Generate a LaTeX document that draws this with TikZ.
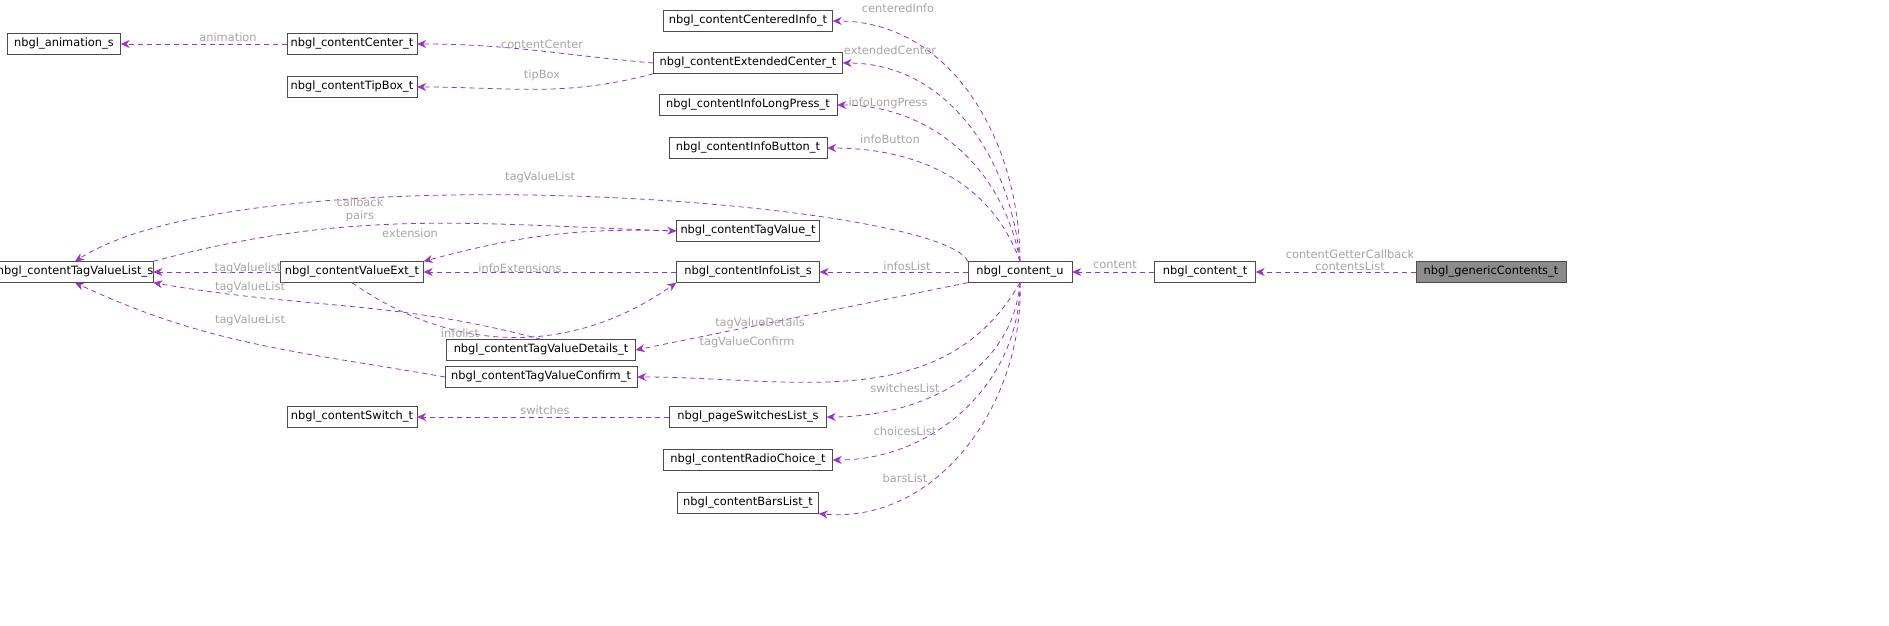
\documentclass[tikz,border=0pt]{standalone}
\usepackage{fontspec}
\setmainfont{DejaVu Sans}
\usetikzlibrary{arrows.meta}
\begin{document}
\begin{tikzpicture}[x=1pt,y=1pt,scale=0.5,every node/.append style={transform shape}]
\tikzstyle{cls}=[draw=black!70,line width=0.35pt,fill=white,inner sep=0pt,minimum height=21pt,font=\fontsize{11.4}{13}\selectfont]
\tikzstyle{dep}=[draw={rgb,255:red,154;green,50;blue,205},line width=0.4pt,dash pattern=on 2.5pt off 2pt,-{Stealth[length=4.5pt,width=4pt]}]
\tikzstyle{lbl}=[text=black!35,font=\fontsize{11.4}{12.5}\selectfont,inner sep=0pt,align=center]
\useasboundingbox (0,0) rectangle (1889,-626);
\node[cls,fill=black!45,minimum width=150pt] (generic) at (1491,-272) {nbgl\_genericContents\_t};
\node[cls,minimum width=101pt] (contentT) at (1205,-272) {nbgl\_content\_t};
\node[cls,minimum width=104pt] (contentU) at (1020,-272) {nbgl\_content\_u};
\node[cls,minimum width=169pt] (centered) at (748,-21) {nbgl\_contentCenteredInfo\_t};
\node[cls,minimum width=189pt] (extCenter) at (748,-63) {nbgl\_contentExtendedCenter\_t};
\node[cls,minimum width=178pt] (longPress) at (748,-105) {nbgl\_contentInfoLongPress\_t};
\node[cls,minimum width=158pt] (infoButton) at (748,-148) {nbgl\_contentInfoButton\_t};
\node[cls,minimum width=143pt] (tagValue) at (748,-231) {nbgl\_contentTagValue\_t};
\node[cls,minimum width=143pt] (infoList) at (748,-272) {nbgl\_contentInfoList\_s};
\node[cls,minimum width=189pt] (details) at (541,-350) {nbgl\_contentTagValueDetails\_t};
\node[cls,minimum width=192pt] (confirm) at (541,-377) {nbgl\_contentTagValueConfirm\_t};
\node[cls,minimum width=157pt] (switchesList) at (748,-417) {nbgl\_pageSwitchesList\_s};
\node[cls,minimum width=169pt] (radio) at (748,-460) {nbgl\_contentRadioChoice\_t};
\node[cls,minimum width=141pt] (bars) at (748,-503) {nbgl\_contentBarsList\_t};
\node[cls,minimum width=113pt] (animation) at (64,-44) {nbgl\_animation\_s};
\node[cls,minimum width=130pt] (center) at (352,-44) {nbgl\_contentCenter\_t};
\node[cls,minimum width=130pt] (tipBox) at (352,-87) {nbgl\_contentTipBox\_t};
\node[cls,minimum width=141pt] (tagList) at (75,-272) {nbgl\_contentTagValueList\_s};
\node[cls,minimum width=143pt] (valueExt) at (352,-272) {nbgl\_contentValueExt\_t};
\node[cls,minimum width=130pt] (switch) at (352,-417) {nbgl\_contentSwitch\_t};
% right part
\draw[dep] (generic) -- (contentT);
\node[lbl] (l1) at (1350,-260) {contentGetterCallback\\contentsList};
\draw[dep] (contentT) -- (contentU);
\node[lbl] (l2) at (1115,-265) {content};
% upper members of the union
\draw[dep] (contentU.north) to[out=90,in=0] (centered.east);
\node[lbl] (l3) at (898,-8) {centeredInfo};
\draw[dep] (contentU.north) to[out=95,in=0] (extCenter.east);
\node[lbl] (l4) at (890,-50) {extendedCenter};
\draw[dep] (contentU.north) to[out=100,in=0] (longPress.east);
\node[lbl] (l5) at (888,-103) {infoLongPress};
\draw[dep] (contentU.north) to[out=110,in=0] (infoButton.east);
\node[lbl] (l6) at (890,-139) {infoButton};
\draw[dep] (contentU.north west) .. controls (940,-200) and (250,-150) .. (tagList.north);
\node[lbl] (l7) at (540,-177) {tagValueList};
\draw[dep] (contentU) -- (infoList);
\node[lbl] (l8) at (907,-266) {infosList};
\draw[dep] (contentU.south west) -- (details.east);
\node[lbl] (l9) at (760,-323) {tagValueDetails};
\draw[dep] (contentU.south) to[out=-120,in=0] (confirm.east);
\node[lbl] (l10) at (747,-342) {tagValueConfirm};
% lower members of the union
\draw[dep] (contentU.south) to[out=-95,in=0] (switchesList.east);
\node[lbl] (l11) at (905,-388) {switchesList};
\draw[dep] (contentU.south) to[out=-90,in=0] (radio.east);
\node[lbl] (l12) at (905,-431) {choicesList};
\draw[dep] (contentU.south) to[out=-88,in=-5] (bars.south east);
\node[lbl] (l13) at (905,-478) {barsList};
% left part
\draw[dep] (center) -- (animation);
\node[lbl] (l14) at (228,-37) {animation};
\draw[dep] (extCenter.west) to[out=175,in=0] (center.east);
\node[lbl] (l15) at (542,-44) {contentCenter};
\draw[dep] (extCenter.south west) to[out=-165,in=0] (tipBox.east);
\node[lbl] (l16) at (542,-75) {tipBox};
\draw[dep] (tagList.north east) to[out=15,in=178] (tagValue.west);
\node[lbl] (l17) at (360,-210) {callback\\pairs};
\draw[dep] (tagValue.west) to[out=178,in=15] (valueExt.north east);
\node[lbl] (l18) at (410,-233) {extension};
\draw[dep] (infoList) -- (valueExt);
\node[lbl] (l19) at (520,-268) {infoExtensions};
\draw[dep] (valueExt) -- (tagList);
\node[lbl] (l20) at (248,-268) {tagValuelist};
\draw[dep] (valueExt.south) to[out=-35,in=215] (infoList.south west);
\node[lbl] (l21) at (460,-333) {infolist};
\draw[dep] (details.north) to[out=165,in=-10] (tagList.south east);
\node[lbl] (l22) at (250,-287) {tagValueList};
\draw[dep] (confirm.west) to[out=170,in=-25] (tagList.south);
\node[lbl] (l23) at (250,-320) {tagValueList};
\draw[dep] (switchesList) -- (switch);
\node[lbl] (l24) at (545,-410) {switches};
\end{tikzpicture}
\end{document}
